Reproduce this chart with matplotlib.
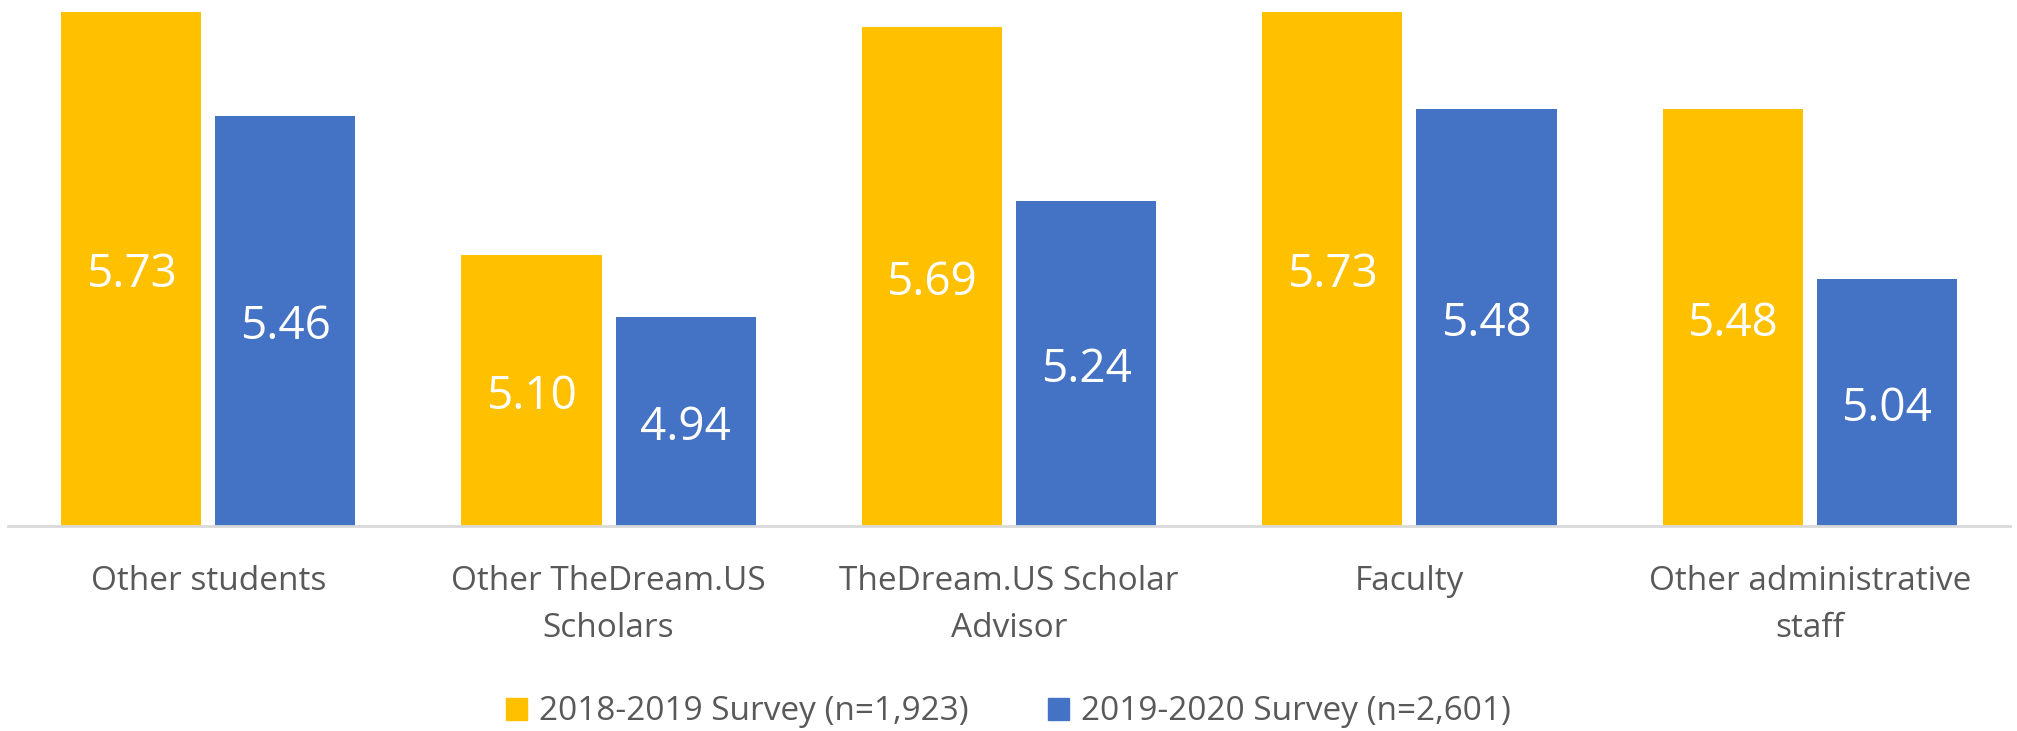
import numpy as np
import matplotlib
matplotlib.use("Agg")
import matplotlib.pyplot as plt
from matplotlib.patches import Patch

# Данные
categories = ["Other students", "Other TheDream.US\nScholars", "TheDream.US Scholar\nAdvisor",
              "Faculty", "Other administrative\nstaff"]
survey_2019 = [5.73, 5.10, 5.69, 5.73, 5.48]
survey_2020 = [5.46, 4.94, 5.24, 5.48, 5.04]
series_names = ["2018-2019 Survey (n=1,923)", "2019-2020 Survey (n=2,601)"]

yellow = "#FFC000"
blue = "#4472C4"
grey = "#595959"

plt.rcParams['font.family'] = ['Open Sans', 'DejaVu Sans']

fig = plt.figure(figsize=(20.17, 7.31), dpi=100)
ax = fig.add_axes([8 / 2017, 205 / 731, 2002 / 2017, 526 / 731])

x = np.arange(len(categories))
w = 0.35
off = 0.1925
b1 = ax.bar(x - off, survey_2019, w, color=yellow)
b2 = ax.bar(x + off, survey_2020, w, color=blue)

ax.set_ylim(4.4, 5.761)
ax.set_xlim(-0.5, len(categories) - 0.5)

for bars in (b1, b2):
    for r in bars:
        h = r.get_height()
        ax.annotate(f"{h:.2f}", (r.get_x() + r.get_width() / 2, 4.4 + (h - 4.4) / 2),
                    xytext=(0, -4.5), textcoords='offset points',
                    ha='center', va='center', color='white', fontsize=33)

ax.set_xticks(x)
ax.set_xticklabels(categories, fontsize=24, color=grey, linespacing=1.58)
ax.tick_params(axis='x', length=0, pad=28)
ax.set_yticks([])
for s in ['top', 'right', 'left']:
    ax.spines[s].set_visible(False)
ax.spines['bottom'].set_color('#D9D9D9')
ax.spines['bottom'].set_linewidth(2)

handles = [Patch(color=yellow), Patch(color=blue)]
leg = fig.legend(handles, series_names, loc='center', bbox_to_anchor=(0.5, 19 / 731),
                 ncol=2, frameon=False, fontsize=24, handlelength=0.625, handleheight=0.625,
                 handletextpad=0.35, columnspacing=2.4)
for t in leg.get_texts():
    t.set_color(grey)

fig.savefig("out.png", dpi=100)
